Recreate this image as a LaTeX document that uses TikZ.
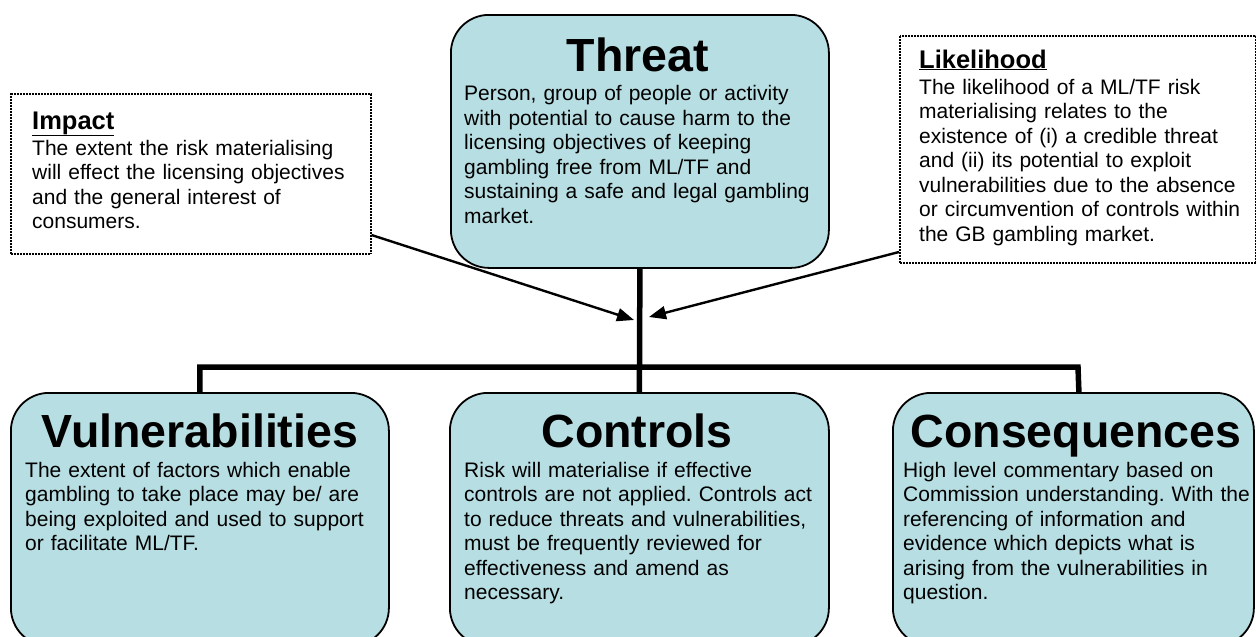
\documentclass[tikz,border=0pt]{standalone}
\usepackage{fontspec}
\setmainfont{Liberation Sans}
\usetikzlibrary{arrows.meta}
\definecolor{boxfill}{RGB}{183,222,226}
\frenchspacing
\begin{document}
\begin{tikzpicture}[x=1pt,y=-1pt,
 bluebox/.style={draw=black, line width=1.8pt, fill=boxfill, rounded corners=38pt, anchor=north west, inner sep=0pt},
 notebox/.style={draw=black, line width=1.5pt, dash pattern=on 1pt off 0.5pt, fill=white, anchor=north west, inner sep=0pt},
 titletext/.style={anchor=base, inner sep=0pt, font=\fontsize{46.5}{50}\selectfont\bfseries},
 headtext/.style={anchor=base west, inner sep=0pt, font=\fontsize{25.5}{30}\selectfont\bfseries},
 bodytext/.style={anchor=base west, inner sep=0pt, text width=420pt, align=left, font=\fontsize{21}{24.5}\selectfont},
 trunk/.style={line width=5.5pt},
 pointer/.style={line width=2.4pt, -{Triangle[length=17pt,width=13pt]}}]
\useasboundingbox (0,0) rectangle (1256,637);
\clip (0,0) rectangle (1256,637);

% note boxes
\node[notebox, minimum width=360pt, minimum height=160pt] (impact) at (10,93) {};
\node[notebox, minimum width=356pt, minimum height=227pt] (likely) at (899,35) {};

% blue boxes
\node[bluebox, minimum width=378pt, minimum height=253pt] (threat) at (450,14) {};
\node[bluebox, minimum width=378pt, minimum height=253pt] (vuln) at (10,392) {};
\node[bluebox, minimum width=379pt, minimum height=253pt] (controls) at (449,392) {};
\node[bluebox, minimum width=361pt, minimum height=253pt] (cons) at (892,392) {};

% connectors
\draw[trunk] (threat.south) -- (controls.north);
\draw[trunk] (vuln.north) |- (1078,367) -- ([xshift=5.5pt]cons.north);
\coordinate (ltip) at (634,320);
\coordinate (rtip) at (649,317);
\draw[pointer] (impact.east |- 0,235) -- (ltip);
\draw[pointer] (likely.west |- 0,252) -- (rtip);

% texts
\node[headtext] (impacthead) at (32,129) {\underline{Impact}};
\node[bodytext] (impactbody) at (32,155) {The extent the risk materialising\\will effect the licensing objectives\\and the general interest of\\consumers.};

\node[headtext] (likelyhead) at (919,68) {\underline{Likelihood}};
\node[bodytext] (likelybody) at (919,94) {The likelihood of a ML/TF risk\\materialising relates to the\\existence of (i) a credible threat\\and (ii) its potential to exploit\\vulnerabilities due to the absence\\or circumvention of controls within\\the GB gambling market.};

\node[titletext] (threattitle) at (638,71) {Threat};
\node[bodytext] (threatbody) at (464,100.5) {Person, group of people or activity\\with potential to cause harm to the\\licensing objectives of keeping\\gambling free from ML/TF and\\sustaining a safe and legal gambling\\market.};

\node[titletext] (vulntitle) at (200,447) {Vulnerabilities};
\node[bodytext] (vulnbody) at (25,477) {The extent of factors which enable\\gambling to take place may be/ are\\being exploited and used to support\\or facilitate ML/TF.};

\node[titletext] (controlstitle) at (637,447) {Controls};
\node[bodytext] (controlsbody) at (464,477) {Risk will materialise if effective\\controls are not applied. Controls act\\to reduce threats and vulnerabilities,\\must be frequently reviewed for\\effectiveness and amend as\\necessary.};

\node[titletext] (constitle) at (1076,447) {Consequences};
\node[bodytext] (consbody) at (903,477) {High level commentary based on\\Commission understanding. With the\\referencing of information and\\evidence which depicts what is\\arising from the vulnerabilities in\\question.};
\end{tikzpicture}
\end{document}
